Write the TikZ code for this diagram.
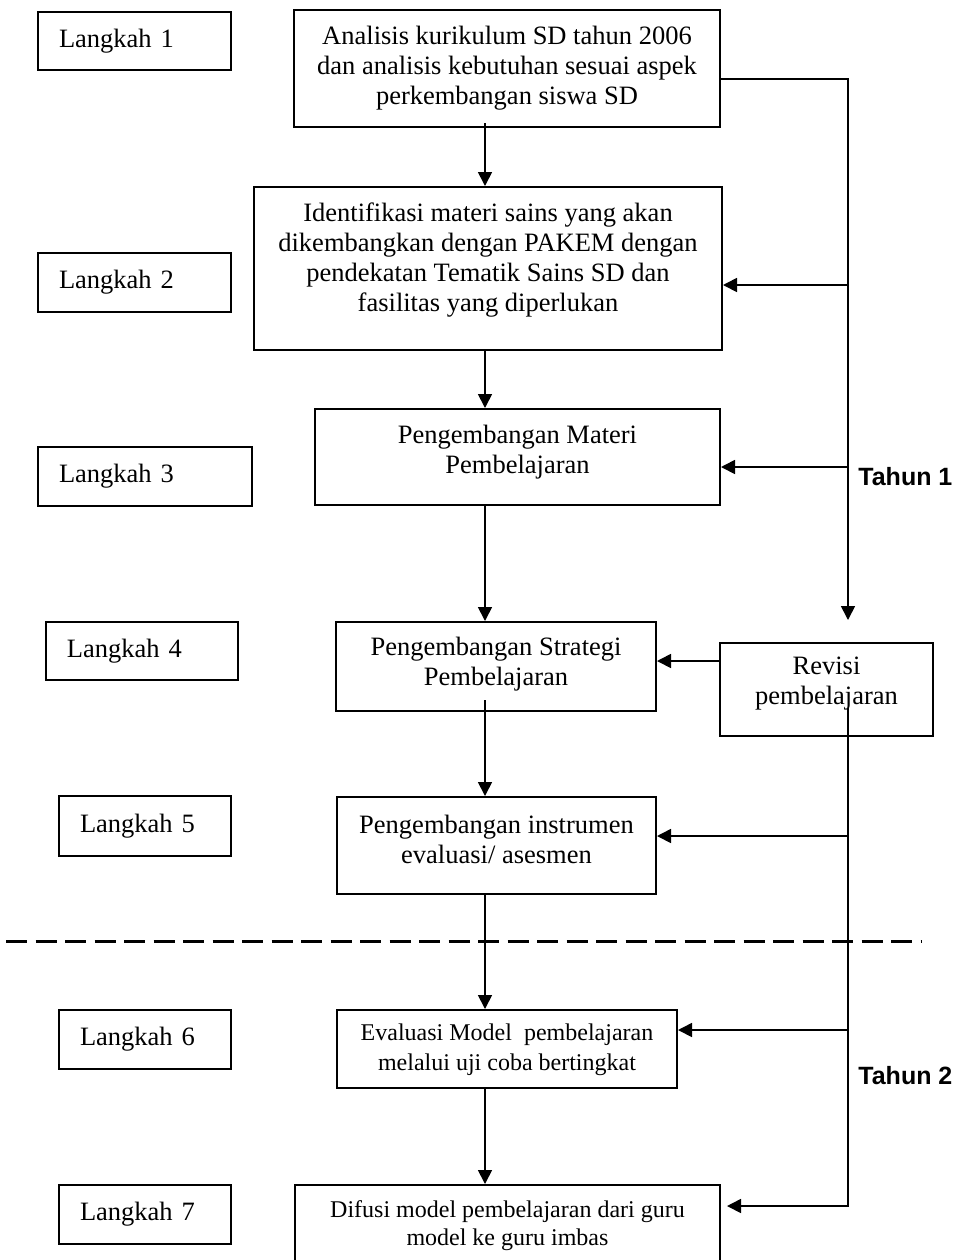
\documentclass[tikz,border=0pt]{standalone}
\usepackage{fontspec}
\setmainfont{Liberation Serif}
\newfontfamily\tahunfont{Liberation Sans}
\usetikzlibrary{arrows.meta,calc}
\begin{document}
\begin{tikzpicture}[x=0.5pt,y=-0.5pt,
  mainbox/.style={draw,line width=1pt,inner sep=0pt},
  txt/.style={align=center,font=\fontsize{13.25pt}{15pt}\selectfont,inner sep=0pt},
  stxt/.style={align=center,font=\fontsize{12pt}{15pt}\selectfont,inner sep=0pt},
  lk/.style={draw,line width=1pt,inner xsep=10.5pt,inner ysep=0pt,font=\fontsize{13.25pt}{15pt}\selectfont,align=left},
  conn/.style={line width=0.85pt},
  arr/.style={conn,-{Triangle[length=7pt,width=7pt]}},
  tahun/.style={anchor=west,inner sep=0pt,font=\tahunfont\bfseries\fontsize{12.5pt}{15pt}\selectfont},
]
\path[use as bounding box,clip] (0,0) rectangle (962,1260);

% Langkah boxes
\node[lk,text width=75.5pt,minimum height=29pt] (l1) at (134.5,41) {Langkah 1};
\node[lk,text width=75.5pt,minimum height=29.5pt] (l2) at (134.5,282.5) {Langkah 2};
\node[lk,text width=86pt,minimum height=29.5pt] (l3) at (145,476.5) {Langkah 3};
\node[lk,text width=75pt,minimum height=29pt] (l4) at (142,651) {Langkah 4};
\node[lk,text width=65pt,minimum height=30pt] (l5) at (145,826) {Langkah 5};
\node[lk,text width=65pt,minimum height=29.5pt] (l6) at (145,1039.5) {Langkah 6};
\node[lk,text width=65pt,minimum height=29.5pt] (l7) at (145,1214.5) {Langkah 7};

% main boxes
\node[mainbox,minimum width=213pt,minimum height=58.5pt] (b1) at (507,68.5) {};
\node[txt] (b1t) at (507,68) {Analisis kurikulum SD tahun 2006\\dan analisis kebutuhan sesuai aspek\\perkembangan siswa SD};
\node[mainbox,minimum width=234pt,minimum height=81.5pt] (b2) at (488,268.5) {};
\node[txt] (b2t) at (488,260) {Identifikasi materi sains yang akan\\dikembangkan dengan PAKEM dengan\\pendekatan Tematik Sains SD dan\\fasilitas yang diperlukan};
\node[mainbox,minimum width=202.5pt,minimum height=48pt] (b3) at (517.5,457) {};
\node[txt] (b3t) at (517.5,452) {Pengembangan Materi\\Pembelajaran};
\node[mainbox,minimum width=160pt,minimum height=44.5pt] (b4) at (496,666.5) {};
\node[txt] (b4t) at (496,664) {Pengembangan Strategi\\Pembelajaran};
\node[mainbox,minimum width=106.5pt,minimum height=46.5pt] (rv) at (826.5,689.5) {};
\node[txt] (rvt) at (826.5,684) {Revisi\\pembelajaran};
\node[mainbox,minimum width=159.5pt,minimum height=48.5pt] (b5) at (496.5,845.5) {};
\node[txt] (b5t) at (496.5,839) {Pengembangan instrumen\\evaluasi/ asesmen};
\node[mainbox,minimum width=170pt,minimum height=39pt] (b6) at (507,1049) {};
\node[stxt] (b6t) at (507,1050) {Evaluasi Model~ pembelajaran\\melalui uji coba bertingkat};
\node[mainbox,minimum width=212.5pt,minimum height=41.5pt] (b7) at (507.5,1226.5) {};
\node[stxt,font=\fontsize{12pt}{14pt}\selectfont] (b7t) at (507.5,1226) {Difusi model pembelajaran dari guru\\model ke guru imbas};

\node[tahun] (t1) at (858,477) {Tahun 1};
\node[tahun] (t2) at (858,1076) {Tahun 2};

% helper coordinates
\coordinate (cx) at (485,0);
\coordinate (rx) at (848,0);

% main vertical flow
\draw[arr] ([yshift=2.5pt]b1.south -| cx) -- (b2.north -| cx);
\draw[arr] (b2.south -| cx) -- (b3.north -| cx);
\draw[arr] (b3.south -| cx) -- (b4.north -| cx);
\draw[arr] ([yshift=6pt]b4.south -| cx) -- (b5.north -| cx);
\draw[arr] (b5.south -| cx) -- (b6.north -| cx);
\draw[arr] (b6.south -| cx) -- (b7.north -| cx);

% upper feedback line
\coordinate (s1) at ($(b1.east)+(0,10.5)$);
\coordinate (r1) at ($(rv.north)+(21.5,-22)$);
\draw[arr] (s1) -| (r1);
\coordinate (a2) at ($(b2.east)+(0,16.5)$);
\draw[arr] (a2 -| rx) -- (a2);
\coordinate (a3) at ($(b3.east)+(0,10)$);
\draw[arr] (a3 -| rx) -- (a3);

% revisi to step 4
\draw[arr] ($(rv.west)+(0,-28.5)$) -- ($(b4.east)+(0,-5.5)$);

% lower feedback line
\coordinate (s2) at ($(rv.center)+(21.5,18.5)$);
\coordinate (a7) at ($(b7.east)+(6,-20.5)$);
\draw[arr] (s2) |- (a7);
\coordinate (a5) at ($(b5.east)+(0,-9.5)$);
\draw[arr] (a5 -| rx) -- (a5);
\coordinate (a6) at ($(b6.east)+(0,-19)$);
\draw[arr] (a6 -| rx) -- (a6);

% year divider
\coordinate (dl) at (6,941);
\coordinate (dr) at (921,941);
\draw[line width=1.5pt,dash pattern=on 10.5pt off 4.25pt] (dl) -- (dr);
\end{tikzpicture}
\end{document}
